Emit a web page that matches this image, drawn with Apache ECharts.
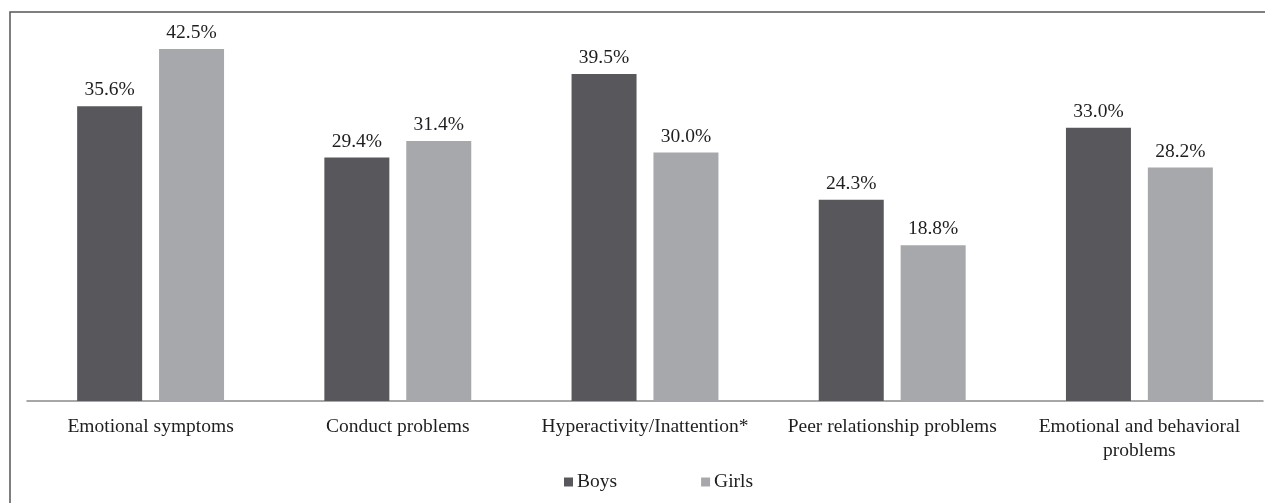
<!DOCTYPE html>
<html>
<head>
<meta charset="utf-8">
<script src="https://cdn.jsdelivr.net/npm/echarts@6/dist/echarts.min.js"></script>
<style>html,body{margin:0;padding:0;background:#fff}#c{width:1265px;height:503px}</style>
</head>
<body>
<div id="c"></div>
<script>
const categories = ["Emotional symptoms", "Conduct problems", "Hyperactivity/Inattention*", "Peer relationship problems", "Emotional and behavioral\nproblems"];
const boys = [35.6, 29.4, 39.5, 24.3, 33.0];
const girls = [42.5, 31.4, 30.0, 18.8, 28.2];
const font = '"Liberation Serif", "Times New Roman", serif';
const chart = echarts.init(document.getElementById('c'), null, {renderer: 'canvas'});
const labelCfg = {show: true, position: 'top', distance: 6, formatter: p => p.value.toFixed(1) + '%', fontFamily: font, fontSize: 19.5, color: '#1e1e1e'};
chart.setOption({
  animation: false,
  textStyle: {fontFamily: font},
  graphic: [{type: 'rect', shape: {x: 10, y: 12, width: 1400, height: 700}, style: {fill: 'none', stroke: '#555', lineWidth: 1.5}, silent: true}],
  grid: {left: 27, right: 2, top: 28.4, bottom: 102, containLabel: false},
  legend: {
    bottom: 6, left: 559, itemWidth: 9, itemHeight: 9, itemGap: 84, icon: 'rect',
    textStyle: {fontFamily: font, fontSize: 19.5, color: '#1e1e1e', padding: [0, 0, 0, -1]},
    data: ['Boys', 'Girls']
  },
  xAxis: {
    type: 'category', data: categories,
    axisLine: {lineStyle: {color: '#8a8a8a', width: 1.5}},
    axisTick: {show: false},
    axisLabel: {fontFamily: font, fontSize: 19.5, color: '#1e1e1e', margin: 14, lineHeight: 24, interval: 0}
  },
  yAxis: {type: 'value', min: 0, max: 45, show: false, splitLine: {show: false}},
  series: [
    {name: 'Boys', type: 'bar', data: boys, barWidth: 65, barGap: '26%', itemStyle: {color: '#58585c'}, label: labelCfg},
    {name: 'Girls', type: 'bar', data: girls, barWidth: 65, itemStyle: {color: '#a7a8ab'}, label: labelCfg}
  ]
});
</script>
</body>
</html>
